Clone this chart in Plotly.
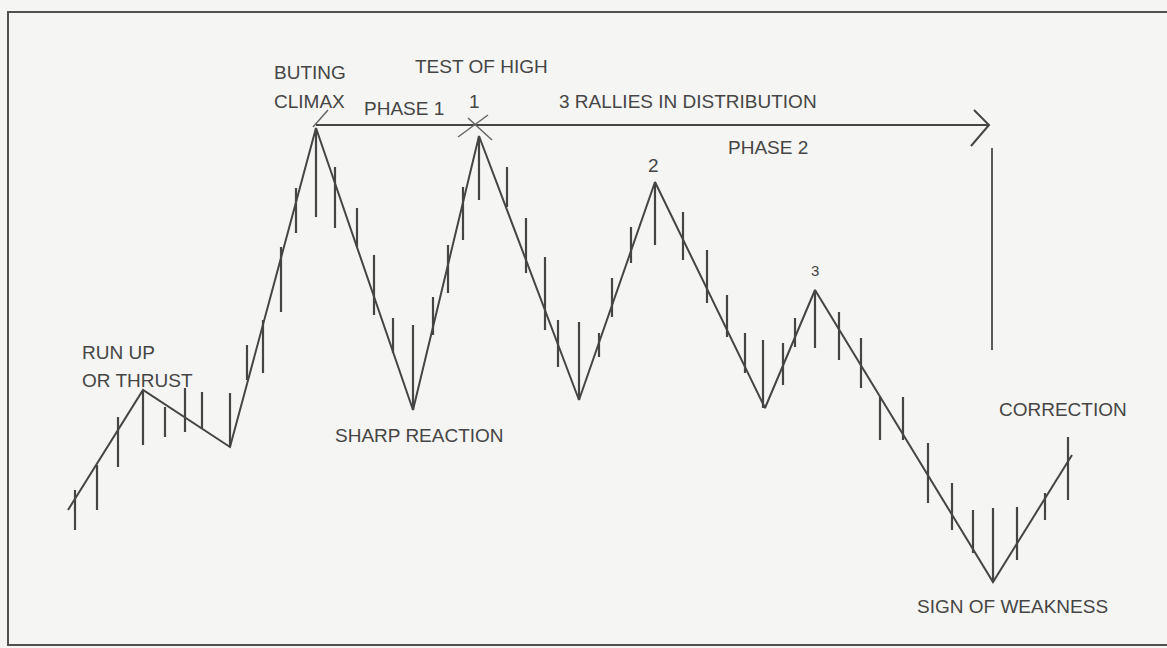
import plotly.graph_objects as go

# Zigzag pivots (time position, price)
pivot_t = [68, 143, 230, 316, 413, 479, 579, 655, 765, 815, 993, 1072]
pivot_p = [138, 258, 201, 520, 238, 512, 248, 466, 240, 358, 66, 193]

# Range bars: time position, high, low
bar_t = [75, 97, 118, 143, 165, 185, 202, 230, 247, 263, 281, 296, 316,
         335, 357, 374, 393, 413, 433, 448, 463, 479, 507, 526, 545, 558,
         579, 599, 612, 631, 655, 683, 707, 727, 745, 763, 783, 795, 815,
         839, 861, 880, 903, 928, 952, 973, 993, 1017, 1045, 1068]
bar_high = [158, 183, 231, 258, 241, 260, 256, 255, 303, 328, 401, 460, 520,
            481, 440, 393, 330, 323, 351, 403, 461, 512, 481, 430, 391, 328,
            326, 315, 370, 421, 466, 436, 398, 353, 315, 308, 305, 330, 358,
            336, 310, 251, 251, 205, 165, 138, 140, 141, 155, 211]
bar_low = [118, 138, 181, 203, 211, 216, 220, 201, 268, 275, 336, 415, 431,
           420, 401, 333, 295, 238, 313, 355, 408, 448, 441, 375, 318, 281,
           248, 291, 331, 385, 403, 388, 345, 311, 275, 240, 263, 301, 300,
           288, 260, 208, 208, 145, 118, 95, 66, 88, 128, 148]

# Phase arrow and markers
arrow_t = [316, 989]
arrow_p = 523
arrow_head_t = [974, 989, 971]
arrow_head_p = [538, 523, 502]
vline_t = 992
vline_p = [500, 298]

labels = [
    ("BUTING", 272, 576, "left"),
    ("CLIMAX", 272, 547, "left"),
    ("TEST OF HIGH", 413, 582, "left"),
    ("PHASE 1", 362, 540, "left"),
    ("1", 474, 547, "center"),
    ("3 RALLIES IN DISTRIBUTION", 557, 547, "left"),
    ("PHASE 2", 726, 501, "left"),
    ("2", 653, 483, "center"),
    ("RUN UP", 80, 296, "left"),
    ("OR THRUST", 80, 268, "left"),
    ("SHARP REACTION", 333, 213, "left"),
    ("CORRECTION", 997, 239, "left"),
    ("SIGN OF WEAKNESS", 915, 42, "left"),
]

INK = "#454545"

fig = go.Figure()

# range bars
bx, by = [], []
for t, h, l in zip(bar_t, bar_high, bar_low):
    bx += [t, t, None]
    by += [h, l, None]
fig.add_trace(go.Scatter(x=bx, y=by, mode="lines",
                         line=dict(color=INK, width=2.2), hoverinfo="skip"))

# zigzag
fig.add_trace(go.Scatter(x=pivot_t, y=pivot_p, mode="lines",
                         line=dict(color=INK, width=2), hoverinfo="skip"))

# phase arrow
fig.add_trace(go.Scatter(x=arrow_t, y=[arrow_p, arrow_p], mode="lines",
                         line=dict(color=INK, width=2), hoverinfo="skip"))
fig.add_trace(go.Scatter(x=arrow_head_t, y=arrow_head_p, mode="lines",
                         line=dict(color=INK, width=2), hoverinfo="skip"))
# vertical count line
fig.add_trace(go.Scatter(x=[vline_t, vline_t], y=vline_p, mode="lines",
                         line=dict(color="#5a5a5a", width=2), hoverinfo="skip"))
# climax tick and test-of-high cross
fig.add_trace(go.Scatter(x=[313, 328, None, 458, 488, None, 468, 492],
                         y=[521, 538, None, 511, 533, None, 530, 508],
                         mode="lines", line=dict(color="#666", width=1.5),
                         hoverinfo="skip"))

for text, t, p, anchor in labels:
    fig.add_annotation(x=t, y=p, text=text, showarrow=False, xanchor=anchor,
                       yanchor="middle",
                       font=dict(family="Liberation Sans, Arial", size=19,
                                 color="#454545"))
fig.add_annotation(x=815, y=378, text="3", showarrow=False, xanchor="center",
                   yanchor="middle",
                   font=dict(family="Liberation Sans, Arial", size=15,
                             color="#454545"))

# border frame
fig.add_shape(type="rect", xref="x", yref="y", x0=8, x1=1180, y0=3, y1=636,
              line=dict(color="#505050", width=2), layer="below")

fig.update_layout(
    width=1167, height=648,
    margin=dict(l=0, r=0, t=0, b=0),
    paper_bgcolor="#f5f5f3", plot_bgcolor="#f5f5f3",
    showlegend=False,
    xaxis=dict(range=[0, 1167], visible=False, fixedrange=True),
    yaxis=dict(range=[0, 648], visible=False, fixedrange=True),
)

fig.write_html("out.html", config={"displayModeBar": False},
               post_script="document.body.style.margin='0';"
                           "document.body.style.background='#f5f5f3';")
